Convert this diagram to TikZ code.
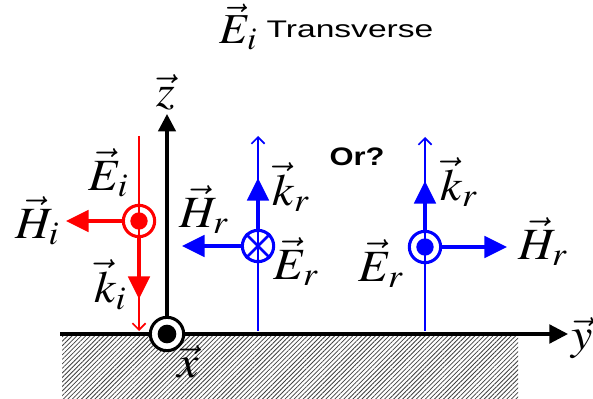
\documentclass[tikz,border=0pt]{standalone}
\usepackage{mathptmx}
\usepackage[no-math]{fontspec}
\setmainfont{Liberation Sans}
\usetikzlibrary{arrows.meta,patterns.meta}
\newcommand{\biglbl}[1]{\scalebox{3.6}[3.35]{$#1$}}
\begin{document}
\begin{tikzpicture}[x=0.75pt,y=-0.75pt,
  lbl/.style={inner sep=0pt},
  ring/.style={circle, draw, line width=2.3pt, minimum size=23.5pt, inner sep=0pt},
  thinline/.style={line width=1.2pt, -{Straight Barb[length=5pt,width=10pt,line width=1.2pt]}},
  thickarrow/.style={line width=3pt, -{Triangle[length=17pt,width=16pt]}},
  axis/.style={line width=2.4pt, -{Triangle[length=13pt,width=13pt]}}
]
\useasboundingbox (0,0) rectangle (593,399);

% ground
\fill[pattern={Lines[angle=45,distance=2.4pt,line width=0.6pt]}, pattern color=black!75] (62,335) rectangle (518,399);
\coordinate (ystart) at (60,334);
\coordinate (yend) at (568,334);
\draw[axis, -{Triangle[length=14pt,width=14pt]}] (ystart) -- (yend);

% origin
\node[ring, fill=white, minimum size=25pt] (O) at (167,334) {};
\coordinate (ztip) at (167,114);
\draw[axis] (O.north) -- (ztip);
\fill (O.center) circle (7pt);

% title
\node[inner sep=0pt] (tE) at (239,27) {\scalebox{3.4}[3.2]{$\vec{E}_i$}};
\node[inner sep=0pt, font=\fontsize{18}{21}\selectfont] (tT) at (350,29) {\scalebox{1.4}[1]{Transverse}};

% axis labels
\node[lbl] (zl) at (166,92) {\biglbl{\vec{z}}};
\node[lbl] (xl) at (188,362) {\biglbl{\vec{x}}};
\node[lbl] (yl) at (582,338) {\biglbl{\vec{y}}};

% incident (red)
\coordinate (rtop) at (139,136);
\coordinate (rbot) at (139,331);
\draw[red, thinline] (rtop) -- (rbot);
\node[ring, red] (ci) at (139,221) {};
\fill[red] (ci.center) circle (6.5pt);
\coordinate (hitip) at (66,221);
\coordinate (kitip) at (139,299);
\draw[red, thickarrow] (ci.west) -- (hitip);
\draw[red, thickarrow] (ci.south) -- (kitip);
\node[lbl] (Ei) at (109,173) {\biglbl{\vec{E}_i}};
\node[lbl] (Hi) at (38,221) {\biglbl{\vec{H}_i}};
\node[lbl] (ki) at (111,285) {\biglbl{\vec{k}_i}};

% reflected, option 1 (blue)
\coordinate (b1bot) at (258,331);
\coordinate (b1top) at (258,136);
\draw[blue, thinline] (b1bot) -- (b1top);
\node[ring, blue] (cb1) at (258,246) {};
\draw[blue, line width=2pt] (cb1.north west) -- (cb1.south east) (cb1.north east) -- (cb1.south west);
\coordinate (hr1tip) at (182,246);
\coordinate (kr1tip) at (258,178);
\draw[blue, thickarrow] (cb1.west) -- (hr1tip);
\draw[blue, thickarrow] (cb1.north) -- (kr1tip);
\node[lbl] (Hr1) at (205,210) {\biglbl{\vec{H}_r}};
\node[lbl] (kr1) at (292,187) {\biglbl{\vec{k}_r}};
\node[lbl] (Er1) at (297,262) {\biglbl{\vec{E}_r}};

% or
\node[inner sep=0pt, font=\fontsize{19}{22}\selectfont\bfseries] (or) at (357,157) {\scalebox{1.22}[1]{Or?}};

% reflected, option 2 (blue)
\coordinate (b2bot) at (425,331);
\coordinate (b2top) at (425,137);
\draw[blue, thinline] (b2bot) -- (b2top);
\node[ring, blue] (cb2) at (425,247) {};
\fill[blue] (cb2.center) circle (6.5pt);
\coordinate (hr2tip) at (507,247);
\coordinate (kr2tip) at (425,181);
\draw[blue, thickarrow] (cb2.east) -- (hr2tip);
\draw[blue, thickarrow] (cb2.north) -- (kr2tip);
\node[lbl] (kr2) at (460,182) {\biglbl{\vec{k}_r}};
\node[lbl] (Hr2) at (544,242) {\biglbl{\vec{H}_r}};
\node[lbl] (Er2) at (382,264) {\biglbl{\vec{E}_r}};
\end{tikzpicture}
\end{document}
